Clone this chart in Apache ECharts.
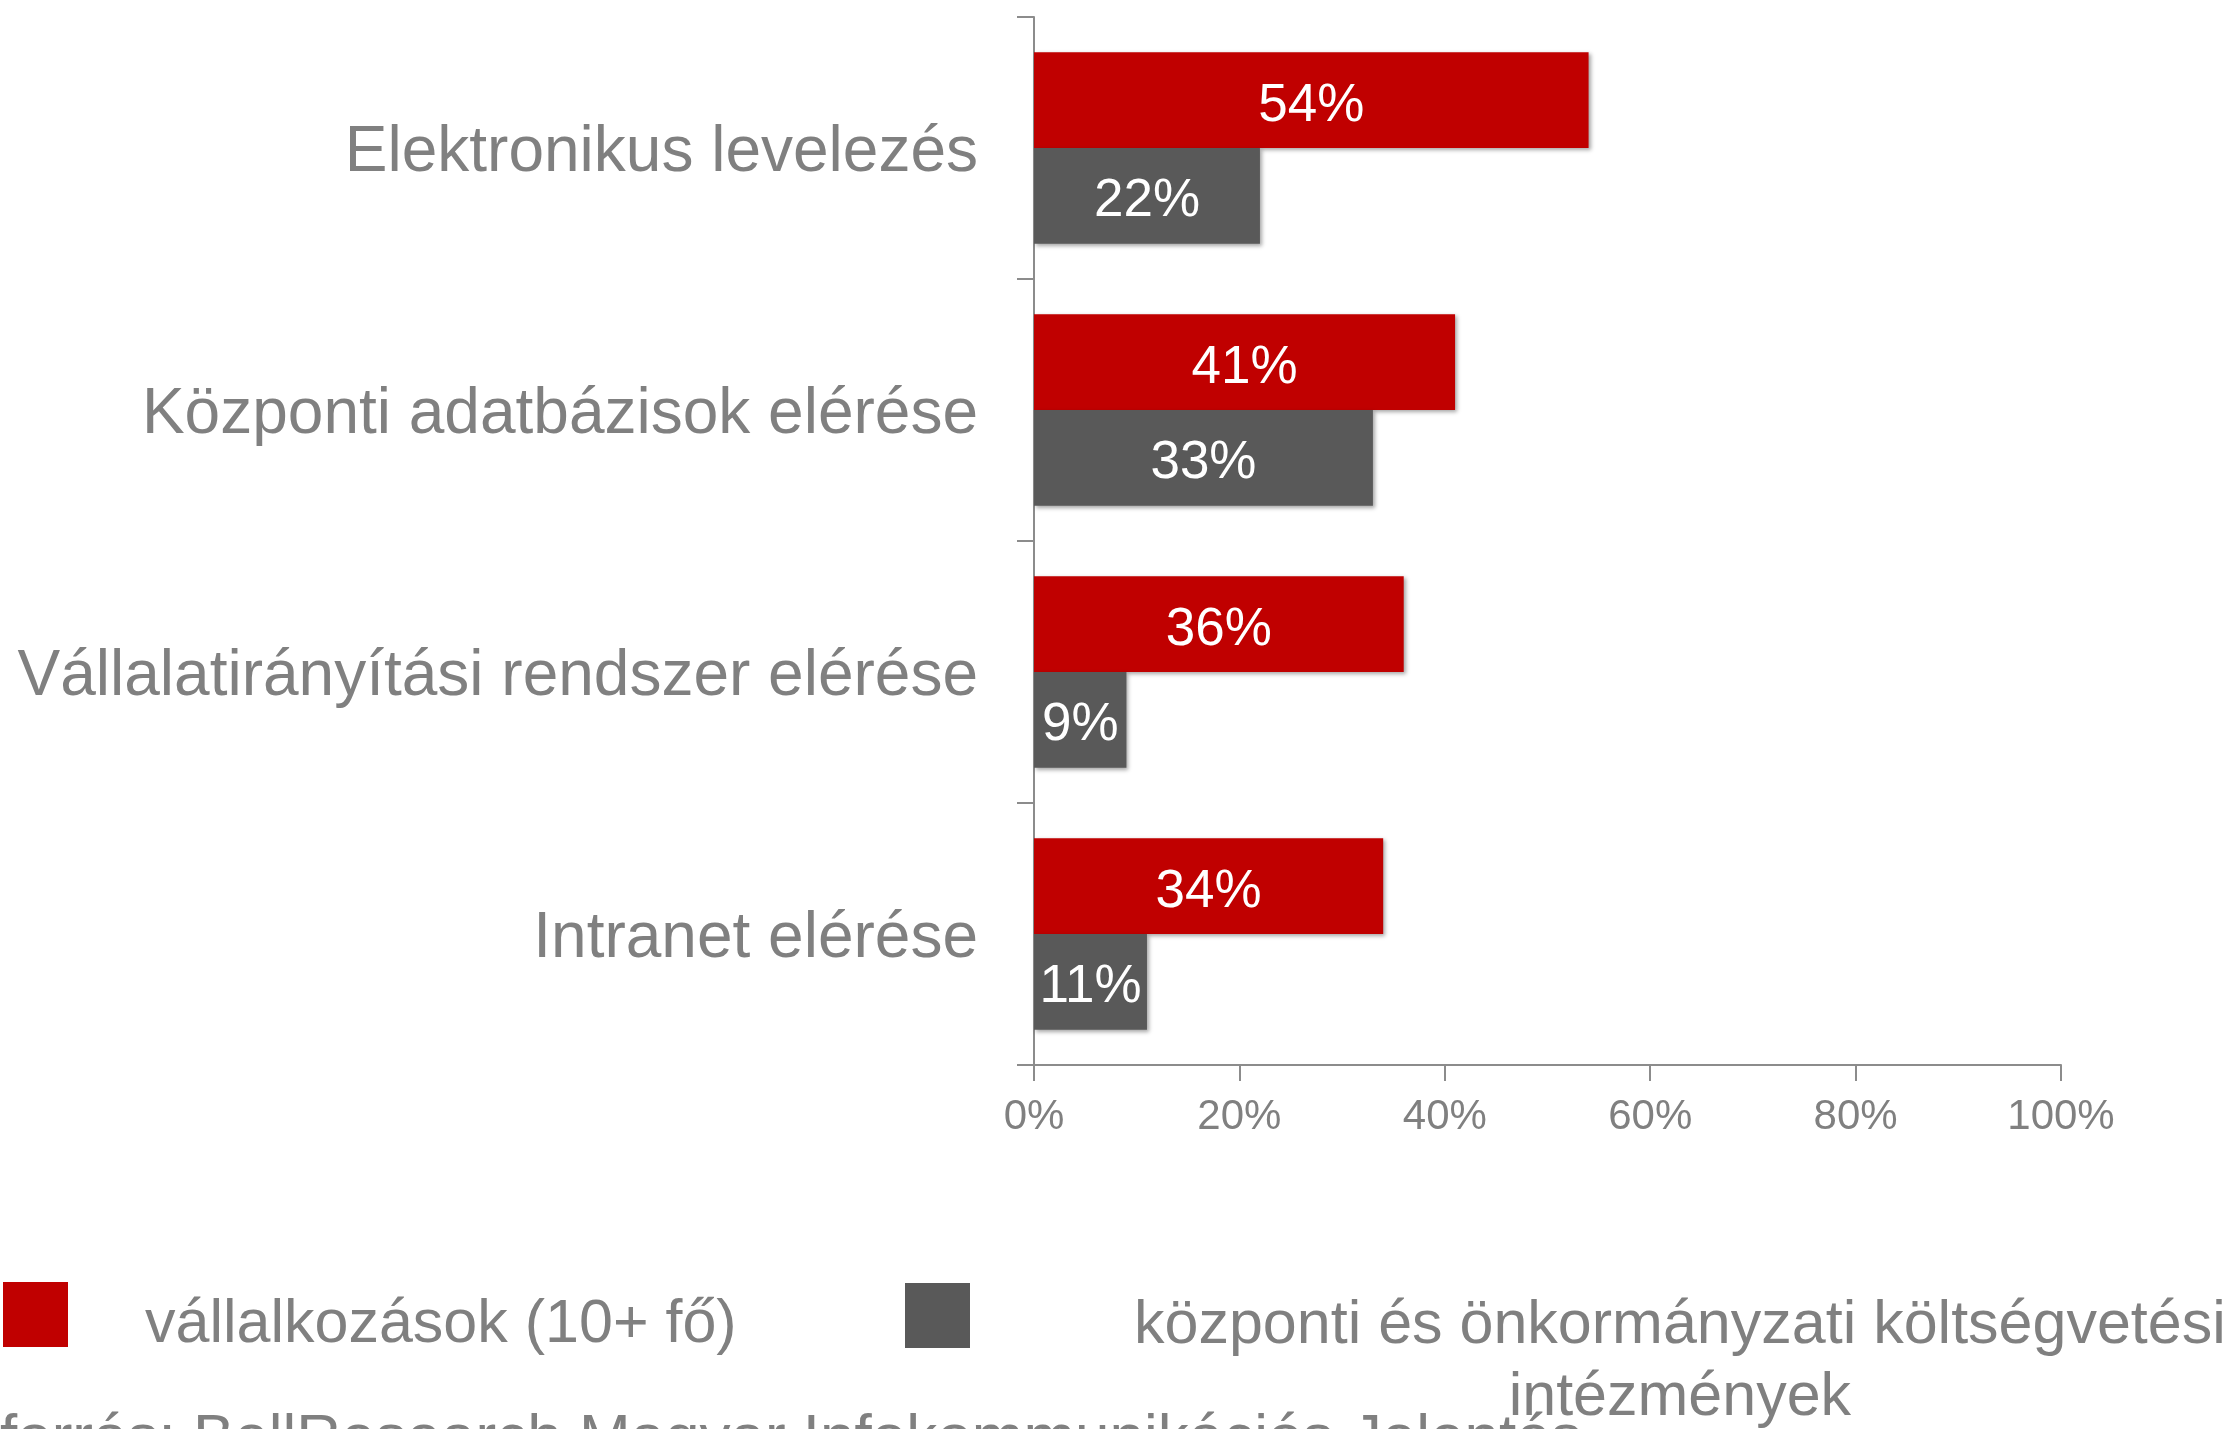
<!DOCTYPE html>
<html>
<head>
<meta charset="utf-8">
<script src="https://cdn.jsdelivr.net/npm/echarts@6/dist/echarts.min.js"></script>
<style>
  html, body { margin: 0; padding: 0; background: #fff; }
  #chart { width: 2236px; height: 1429px; }
</style>
</head>
<body>
<div id="chart"></div>
<script>
const categories = [
  'Elektronikus levelezés',
  'Központi adatbázisok elérése',
  'Vállalatirányítási rendszer elérése',
  'Intranet elérése'
];
const seriesNames = [
  'vállalkozások (10+ fő)',
  'központi és önkormányzati költségvetési intézmények'
];
const businessValues = [54, 41, 36, 34];
const publicValues = [22, 33, 9, 11];
const xTicks = [0, 20, 40, 60, 80, 100];
const sourceText = 'forrás: BellResearch Magyar Infokommunikációs Jelentés';

const RED = '#C00000';
const GRAY = '#595959';
const TEXT = '#808080';
const AXIS = '#8c8c8c';
const FONT = '"Liberation Sans", Arial, sans-serif';

const chart = echarts.init(document.getElementById('chart'));

const barShadow = {
  shadowBlur: 4,
  shadowOffsetX: 2,
  shadowOffsetY: 2,
  shadowColor: 'rgba(0,0,0,0.35)'
};

const barLabel = {
  show: true,
  position: 'inside',
  offset: [0, 6],
  formatter: '{c}%',
  color: '#fff',
  fontSize: 53,
  fontFamily: FONT
};

const option = {
  animation: false,
  backgroundColor: '#fff',
  textStyle: { fontFamily: FONT },
  title: {
    text: sourceText,
    left: 0,
    top: 1409,
    padding: 0,
    textStyle: { fontFamily: FONT, fontSize: 62, fontWeight: 'normal', color: TEXT }
  },
  grid: {
    left: 1034,
    right: 175,
    top: 17,
    bottom: 364,
    containLabel: false
  },
  legend: [
    {
      data: [seriesNames[0]],
      left: 3,
      top: 1282,
      padding: 0,
      itemWidth: 65,
      itemHeight: 65,
      icon: 'rect',
      formatter: function (name) { return '{a|' + name + '}'; },
      textStyle: {
        fontFamily: FONT,
        fontSize: 61,
        color: TEXT,
        padding: [0, 0, 0, 72],
        rich: {
          a: { fontFamily: FONT, fontSize: 61, color: TEXT, padding: [21, 0, 0, 0] }
        }
      }
    },
    {
      data: [seriesNames[1]],
      left: 905,
      top: 1197,
      padding: 0,
      itemWidth: 65,
      itemHeight: 65,
      icon: 'rect',
      formatter: function () {
        return '{a|központi és önkormányzati költségvetési}\n{a|intézmények}';
      },
      textStyle: {
        fontFamily: FONT,
        fontSize: 61,
        color: TEXT,
        lineHeight: 72,
        padding: [93, 0, 0, 159],
        rich: {
          a: { fontFamily: FONT, fontSize: 61, color: TEXT, lineHeight: 72, align: 'center' }
        }
      }
    }
  ],
  xAxis: {
    type: 'value',
    min: 0,
    max: 100,
    interval: 20,
    splitLine: { show: false },
    axisLine: { show: true, lineStyle: { color: AXIS, width: 2 } },
    axisTick: { show: true, length: 16, lineStyle: { color: AXIS, width: 2 } },
    axisLabel: {
      margin: 31,
      fontSize: 42,
      color: TEXT,
      fontFamily: FONT,
      formatter: function (v) { return xTicks.indexOf(v) >= 0 ? v + '%' : ''; }
    }
  },
  yAxis: {
    type: 'category',
    data: categories,
    inverse: true,
    axisLine: { show: true, lineStyle: { color: AXIS, width: 2 } },
    axisTick: { show: true, length: 17, lineStyle: { color: AXIS, width: 2 } },
    axisLabel: {
      margin: 56,
      fontSize: 64,
      color: TEXT,
      fontFamily: FONT,
      formatter: function (v) { return '{a|' + v + '}'; },
      rich: {
        a: { fontFamily: FONT, fontSize: 64, color: TEXT, padding: [10, 0, 0, 0] }
      }
    }
  },
  series: [
    {
      name: seriesNames[0],
      type: 'bar',
      data: businessValues,
      barGap: '0%',
      barCategoryGap: '27%',
      itemStyle: Object.assign({ color: RED }, barShadow),
      label: barLabel
    },
    {
      name: seriesNames[1],
      type: 'bar',
      data: publicValues,
      barGap: '0%',
      barCategoryGap: '27%',
      itemStyle: Object.assign({ color: GRAY }, barShadow),
      label: barLabel
    }
  ]
};

chart.setOption(option);
</script>
</body>
</html>
